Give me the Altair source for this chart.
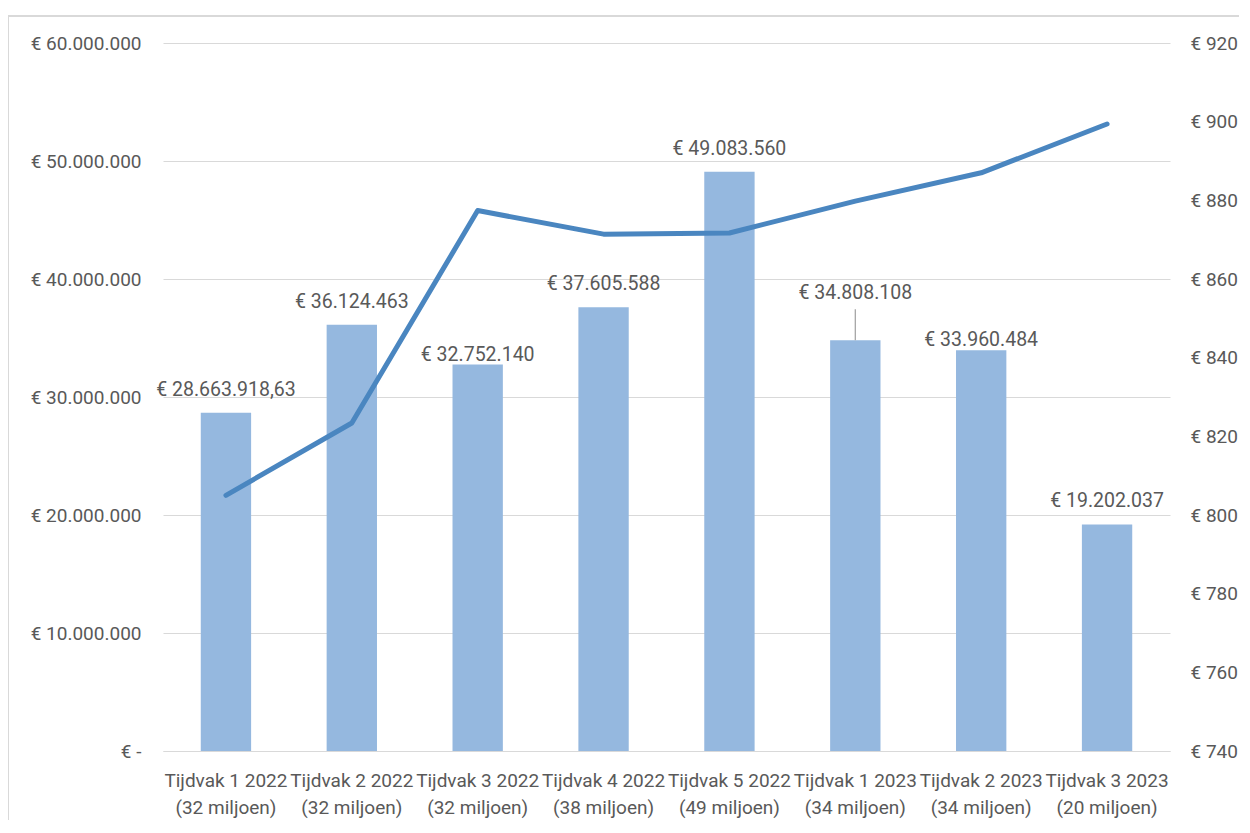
import altair as alt
import pandas as pd

categories = [
    "Tijdvak 1 2022|(32 miljoen)",
    "Tijdvak 2 2022|(32 miljoen)",
    "Tijdvak 3 2022|(32 miljoen)",
    "Tijdvak 4 2022|(38 miljoen)",
    "Tijdvak 5 2022|(49 miljoen)",
    "Tijdvak 1 2023|(34 miljoen)",
    "Tijdvak 2 2023|(34 miljoen)",
    "Tijdvak 3 2023|(20 miljoen)",
]
amounts = [28663918.63, 36124463, 32752140, 37605588, 49083560, 34808108, 33960484, 19202037]
bar_labels = [
    "€ 28.663.918,63", "€ 36.124.463", "€ 32.752.140", "€ 37.605.588",
    "€ 49.083.560", "€ 34.808.108", "€ 33.960.484", "€ 19.202.037",
]
line_values = [805.0, 823.4, 877.4, 871.4, 871.7, 879.8, 887.0, 899.4]
left_ticks = [0, 10000000, 20000000, 30000000, 40000000, 50000000, 60000000]
right_ticks = [740, 760, 780, 800, 820, 840, 860, 880, 900, 920]
raised_labels = ["Tijdvak 1 2023|(34 miljoen)"]
lowered_labels = ["Tijdvak 3 2022|(32 miljoen)", "Tijdvak 2 2023|(34 miljoen)"]

df = pd.DataFrame({
    "cat": categories,
    "amount": amounts,
    "label": bar_labels,
    "line": line_values,
})
df["raised"] = df["cat"].isin(raised_labels)
df["lowered"] = df["cat"].isin(lowered_labels)

FONT = "Roboto"
GREY = "#595959"
FRAME = "#d9d9d9"

x = alt.X(
    "cat:N",
    sort=categories,
    title=None,
    scale=alt.Scale(paddingInner=0.6, paddingOuter=0.3),
    axis=alt.Axis(
        labelExpr="split(datum.label, '|')",
        labelAngle=0,
        labelFont=FONT,
        labelFontSize=19,
        labelColor=GREY,
        labelLineHeight=27,
        labelPadding=20,
        labelBaseline="top",
        ticks=False,
        domain=True,
        domainColor="#d9d9d9",
        domainWidth=1.2,
        labelOverlap=False,
        labelLimit=200,
        grid=False,
    ),
)

left_axis = alt.Axis(
    values=left_ticks,
    labelExpr="datum.value == 0 ? '€ -' : '€ ' + replace(format(datum.value, ',.0f'), regexp(',', 'g'), '.')",
    labelFont=FONT,
    labelFontSize=19,
    labelColor=GREY,
    labelPadding=22,
    ticks=False,
    domain=False,
    grid=True,
    gridColor="#d9d9d9",
    gridWidth=1.2,
    title=None,
)

y_left = alt.Y("amount:Q", scale=alt.Scale(domain=[0, 60000000], nice=False), axis=left_axis)

base = alt.Chart(df)

bars = base.mark_bar(color="#95b8df").encode(x=x, y=y_left)

texts = base.transform_filter("!datum.raised && !datum.lowered").mark_text(
    font=FONT, fontSize=19.5, color=GREY, baseline="bottom", dy=-13
).encode(x=x, y=y_left, text="label:N")

texts_low = base.transform_filter("datum.lowered").mark_text(
    font=FONT, fontSize=19.5, color=GREY, baseline="bottom", dy=0
).encode(x=x, y=y_left, text="label:N")

texts_raised = base.transform_filter("datum.raised").mark_text(
    font=FONT, fontSize=19.5, color=GREY, baseline="bottom", dy=-37
).encode(x=x, y=y_left, text="label:N")

leader = base.transform_filter("datum.raised").mark_rule(
    color="#a6a6a6", strokeWidth=1.3, yOffset=0, y2Offset=-31
).encode(
    x=x,
    y=y_left,
    y2="amount:Q",
)

frame_top = base.mark_rule(color=FRAME, strokeWidth=1.5).encode(
    x=alt.value(-155), x2=alt.value(1076), y=alt.value(-27)
)
frame_left = base.mark_rule(color=FRAME, strokeWidth=1.5).encode(
    x=alt.value(-155), y=alt.value(-27), y2=alt.value(777)
)

left_layer = alt.layer(bars, leader, texts, texts_low, texts_raised)

line = base.mark_line(color="#4a86c0", strokeWidth=5, strokeCap="round", strokeJoin="round").encode(
    x=x,
    y=alt.Y(
        "line:Q",
        scale=alt.Scale(domain=[740, 920], nice=False, zero=False),
        axis=alt.Axis(
            orient="right",
            values=right_ticks,
            labelExpr="'€ ' + format(datum.value, 'd')",
            labelFont=FONT,
            labelFontSize=19,
            labelColor=GREY,
            labelPadding=20,
            ticks=False,
            domain=False,
            grid=False,
            title=None,
        ),
    ),
)

chart = alt.layer(left_layer, line, frame_top, frame_left).resolve_scale(y="independent").properties(
    width=1007,
    height=708,
    autosize=alt.AutoSizeParams(type="none"),
    padding={"left": 155, "top": 35, "right": 70, "bottom": 70},
).configure(background="white").configure_view(stroke=None)

chart.save("out.html", embed_options={"renderer": "svg", "actions": False})
